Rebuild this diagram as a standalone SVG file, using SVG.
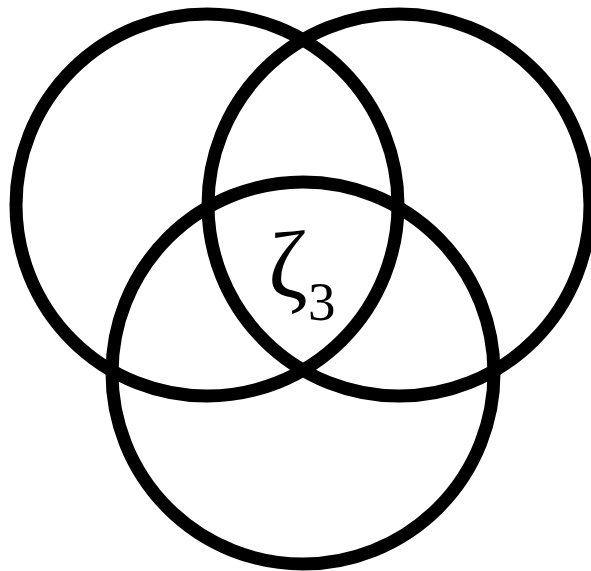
<svg xmlns="http://www.w3.org/2000/svg" width="591" height="571" viewBox="0 0 591 571">
<style>
.c{fill:none;stroke:#000;stroke-width:13}
.t{font-family:"Liberation Serif","DejaVu Serif",serif;fill:#000}
</style>
<rect width="591" height="571" fill="#fff"/>
<g id="circle-left"><circle class="c" cx="207" cy="205" r="191"/></g>
<g id="circle-right"><circle class="c" cx="399" cy="205" r="191"/></g>
<g id="circle-bottom"><circle class="c" cx="303" cy="373" r="191"/></g>
<g id="label"><text class="t" x="268" y="297" font-size="96">ζ</text><text class="t" x="308" y="320" font-size="55">3</text></g>
</svg>
